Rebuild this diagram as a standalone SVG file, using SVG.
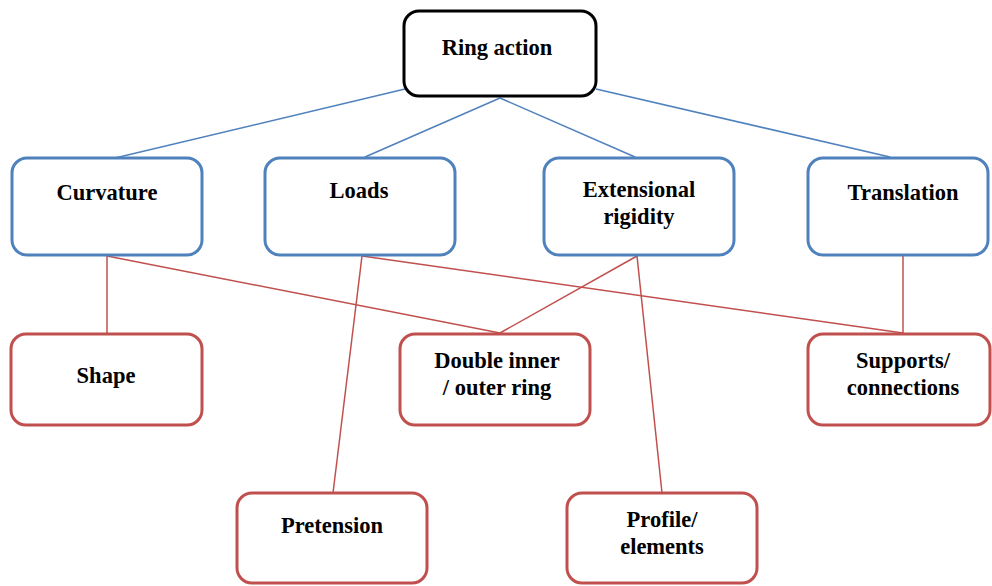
<svg xmlns="http://www.w3.org/2000/svg" width="992" height="586" viewBox="0 0 992 586">
  <style>
    .box { fill: #ffffff; stroke-width: 3; }
    .root { stroke: #000000; }
    .blue { stroke: #4F81BD; }
    .red { stroke: #C0504D; }
    .lb { stroke: #4F81BD; stroke-width: 1.5; fill: none; }
    .lr { stroke: #C0504D; stroke-width: 1.5; fill: none; }
    text { font-family: "Liberation Serif", "DejaVu Serif", serif; font-weight: bold; font-size: 22.5px; fill: #000000; text-anchor: middle; }
  </style>
  <rect width="992" height="586" fill="#ffffff"/>

  <!-- connectors -->
  <g id="connectors">
    <line class="lb" x1="405" y1="89" x2="115" y2="158"/>
    <line class="lb" x1="500" y1="98" x2="365" y2="157"/>
    <line class="lb" x1="500" y1="98" x2="635" y2="157"/>
    <line class="lb" x1="596" y1="89" x2="890" y2="157"/>
    <line class="lr" x1="107" y1="256" x2="107" y2="333"/>
    <line class="lr" x1="107" y1="256" x2="500" y2="333"/>
    <line class="lr" x1="362" y1="256" x2="333" y2="493"/>
    <line class="lr" x1="362" y1="256" x2="903" y2="333"/>
    <line class="lr" x1="637" y1="256" x2="500" y2="333"/>
    <line class="lr" x1="637" y1="256" x2="662" y2="493"/>
    <line class="lr" x1="903" y1="256" x2="903" y2="333"/>
  </g>

  <g id="ring-action">
    <rect class="box root" x="404" y="11" width="192" height="85" rx="15"/>
    <text x="497" y="55">Ring action</text>
  </g>

  <g id="curvature">
    <rect class="box blue" x="12" y="158" width="190" height="97" rx="15"/>
    <text x="107" y="200">Curvature</text>
  </g>
  <g id="loads">
    <rect class="box blue" x="265" y="158" width="190" height="97" rx="15"/>
    <text x="359" y="198">Loads</text>
  </g>
  <g id="extensional-rigidity">
    <rect class="box blue" x="544" y="158" width="190" height="97" rx="15"/>
    <text x="639" y="197">Extensional</text>
    <text x="639" y="224">rigidity</text>
  </g>
  <g id="translation">
    <rect class="box blue" x="808" y="158" width="180" height="97" rx="15"/>
    <text x="903" y="200">Translation</text>
  </g>

  <g id="shape">
    <rect class="box red" x="11" y="334" width="191" height="91" rx="15"/>
    <text x="106" y="383">Shape</text>
  </g>
  <g id="double-ring">
    <rect class="box red" x="400" y="334" width="190" height="91" rx="15"/>
    <text x="497" y="368">Double inner</text>
    <text x="497" y="395">/ outer ring</text>
  </g>
  <g id="supports">
    <rect class="box red" x="808" y="334" width="182" height="91" rx="15"/>
    <text x="903" y="368">Supports/</text>
    <text x="903" y="395">connections</text>
  </g>

  <g id="pretension">
    <rect class="box red" x="237" y="493" width="190" height="90" rx="15"/>
    <text x="332" y="533">Pretension</text>
  </g>
  <g id="profile">
    <rect class="box red" x="567" y="493" width="190" height="90" rx="15"/>
    <text x="662" y="527">Profile/</text>
    <text x="662" y="554">elements</text>
  </g>
</svg>
